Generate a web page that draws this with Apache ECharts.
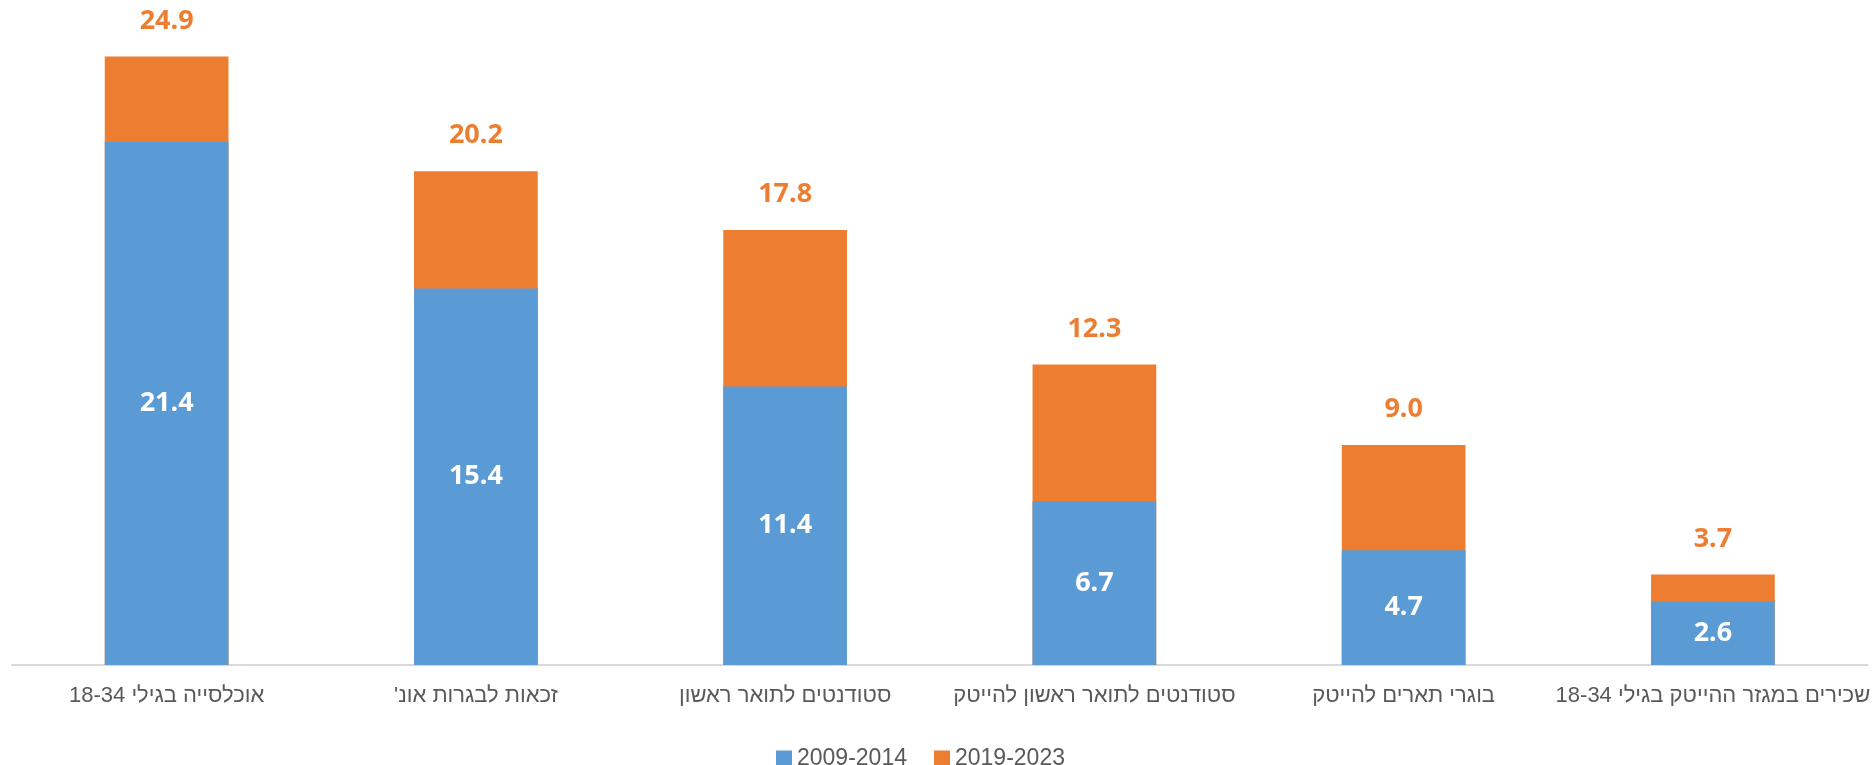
<!DOCTYPE html>
<html>
<head>
<meta charset="utf-8">
<script src="https://cdn.jsdelivr.net/npm/echarts@6/dist/echarts.min.js"></script>
<style>
html,body{margin:0;padding:0;background:#fff;}
#chart{width:1873px;height:765px;}
</style>
</head>
<body>
<div id="chart"></div>
<script>
const categories = [
  "אוכלסייה בגילי 18-34",
  "זכאות לבגרות אונ'",
  "סטודנטים לתואר ראשון",
  "סטודנטים לתואר ראשון להייטק",
  "בוגרי תארים להייטק",
  "שכירים במגזר ההייטק בגילי 18-34"
];
const seriesNames = ["2009-2014", "2019-2023"];
const values2009 = [21.4, 15.4, 11.4, 6.7, 4.7, 2.6];
const values2019 = [24.9, 20.2, 17.8, 12.3, 9.0, 3.7];

const chart = echarts.init(document.getElementById('chart'));
chart.setOption({
  animation: false,
  backgroundColor: '#ffffff',
  grid: {left: 12, right: 3, top: 54, bottom: 100, containLabel: false},
  legend: {
    top: 742,
    left: 771,
    itemWidth: 16,
    itemHeight: 16,
    itemGap: 27,
    icon: 'rect',
    textStyle: {fontFamily: 'Liberation Sans', fontSize: 23, color: '#595959'},
    data: seriesNames
  },
  xAxis: {
    type: 'category',
    data: categories,
    axisLine: {lineStyle: {color: '#d9d9d9', width: 2}},
    axisTick: {show: false},
    axisLabel: {
      margin: 20,
      fontFamily: 'Liberation Sans',
      fontSize: 22,
      color: '#595959',
      interval: 0,
      formatter: v => '\u202B' + v + '\u202C'
    }
  },
  yAxis: {
    type: 'value',
    min: 0,
    max: 25,
    show: false,
    splitLine: {show: false}
  },
  series: [
    {
      name: seriesNames[0],
      type: 'bar',
      data: values2009,
      barWidth: '40%',
      barGap: '-100%',
      z: 3,
      itemStyle: {color: '#5B9BD5'},
      label: {
        show: true,
        position: 'inside',
        color: '#ffffff',
        fontFamily: 'Noto Sans',
        fontWeight: 'bold',
        fontSize: 27,
        formatter: p => p.value.toFixed(1)
      }
    },
    {
      name: seriesNames[1],
      type: 'bar',
      data: values2019,
      barWidth: '40%',
      barGap: '-100%',
      z: 2,
      itemStyle: {color: '#ED7D31'},
      label: {
        show: true,
        position: 'top',
        distance: 22,
        color: '#ED7D31',
        fontFamily: 'Noto Sans',
        fontWeight: 'bold',
        fontSize: 27,
        formatter: p => p.value.toFixed(1)
      }
    }
  ]
});
</script>
</body>
</html>
